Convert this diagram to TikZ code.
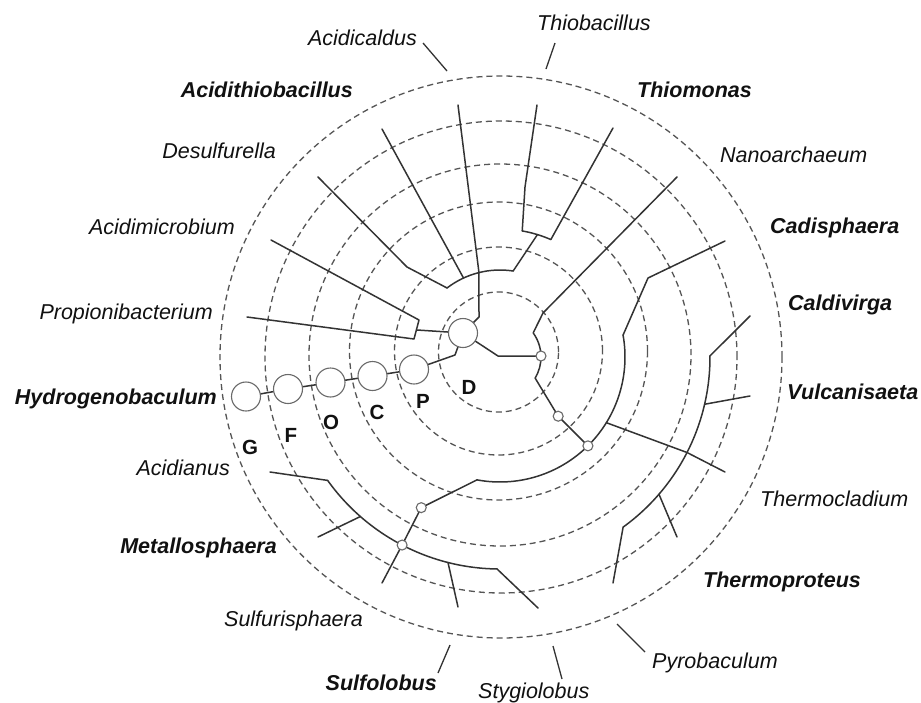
\documentclass[tikz,border=0pt]{standalone}
\usepackage{fontspec}
\setmainfont{Liberation Sans}
\definecolor{ringc}{HTML}{555555}
\definecolor{treec}{HTML}{333333}
\definecolor{nodec}{HTML}{6A6A6A}
\definecolor{textc}{HTML}{111111}
\begin{document}
\begin{tikzpicture}[x=1pt,y=-1pt,
  ring/.style={draw=ringc, line width=1.3pt, dash pattern=on 6pt off 4pt},
  branch/.style={draw=treec, line width=1.5pt, line join=round, line cap=round},
  leader/.style={draw=treec, line width=1.3pt},
  bigc/.style={circle, draw=nodec, fill=white, line width=1.1pt, minimum size=29pt, inner sep=0pt},
  smallc/.style={circle, draw=nodec, fill=white, line width=1.1pt, minimum size=10pt, inner sep=0pt},
  taxon/.style={inner sep=0pt, text=textc, font=\fontsize{21.5}{26}\selectfont\itshape},
  btaxon/.style={inner sep=0pt, text=textc, font=\fontsize{21.5}{26}\selectfont\bfseries\itshape},
  rank/.style={inner sep=0pt, text=textc, font=\fontsize{20.5}{24}\selectfont\bfseries}]
\useasboundingbox (0,0) rectangle (921,702);
\fill[white] (0,0) rectangle (921,702);

% dashed rings
\coordinate (k1) at (498.5,352);
\coordinate (k2) at (498.5,351);
\coordinate (k3) at (498.5,351);
\coordinate (k4) at (500,355);
\coordinate (k5) at (501,357);
\coordinate (k6) at (501,357);
\draw[ring] (k1) circle[radius=60pt];
\draw[ring] (k2) circle[radius=104pt];
\draw[ring] (k3) circle[radius=149pt];
\draw[ring] (k4) circle[radius=191pt];
\draw[ring] (k5) circle[radius=236pt];
\draw[ring] (k6) circle[radius=281pt];

% tree coordinates
\coordinate (T) at (500,357);
\coordinate (hub) at (498,356);
\coordinate (pD) at (463,333);
\coordinate (pP) at (414,369.5);
\coordinate (pC) at (372.5,376);
\coordinate (pO) at (330.5,382.5);
\coordinate (pF) at (288,389);
\coordinate (pG) at (246,396.5);
\coordinate (pa) at ([shift={(T)}]-1.4:41);
\coordinate (pb) at ([shift={(T)}]45.5:83);
\coordinate (pc) at ([shift={(T)}]45.3:125);
\coordinate (pd) at ([shift={(T)}]117.6:170);
\coordinate (pe) at ([shift={(T)}]117.5:212);

% tips
\coordinate (tAcm) at (271,240);
\coordinate (tPro) at (247,317);
\coordinate (tAcd) at (458,105);
\coordinate (tAth) at (382,129);
\coordinate (tDes) at (318,177);
\coordinate (tThb) at (537,105);
\coordinate (tThm) at (613,128);
\coordinate (tNan) at (677,177);
\coordinate (tCad) at (725,241);
\coordinate (tCdv) at (750,316);
\coordinate (tVul) at (750,396);
\coordinate (tTcl) at (725,472);
\coordinate (tTpr) at (677,537);
\coordinate (tPyr) at (613,583);
\coordinate (tAcn) at (270,472);
\coordinate (tMet) at (318,537);
\coordinate (tSfp) at (382,583);
\coordinate (tSfl) at (458,607);
\coordinate (tSty) at (538,608);

% chain of ranks
\coordinate (pdk) at (455,355);
\draw[branch] (pG) -- (pF) -- (pO) -- (pC) -- (pP) -- (pdk) -- (pD);

% left clade
\coordinate (jL1) at (419,320);
\coordinate (jL2) at (414,339);
\coordinate (jL) at (417,330);
\draw[branch] (tAcm) -- (jL1) -- (jL2) -- (tPro);
\draw[branch] (jL) -- (pD);

% upper clade
\coordinate (dUp) at (479,317);
\coordinate (n1) at ([shift={(T)}]-104:87);
\coordinate (aL) at ([shift={(T)}]-127.5:87);
\coordinate (aR) at ([shift={(T)}]-81.3:87);
\coordinate (aAth) at ([shift={(T)}]-114.8:87);
\coordinate (dsK) at (407,267);
\coordinate (bMid) at ([shift={(T)}]-73:128);
\coordinate (bL) at ([shift={(T)}]-80:128);
\coordinate (bR) at ([shift={(T)}]-66.6:128);
\coordinate (thK) at (525,187);
\draw[branch] (pD) -- (dUp) -- (n1);
\draw[branch] (aL) arc[start angle=-127.5, end angle=-81.3, radius=87];
\draw[branch] (n1) -- (tAcd);
\draw[branch] (aAth) -- (tAth);
\draw[branch] (aL) -- (dsK) -- (tDes);
\draw[branch] (aR) -- (bMid);
\draw[branch] (bL) arc[start angle=-80, end angle=-66.6, radius=128];
\draw[branch] (bL) -- (thK) -- (tThb);
\draw[branch] (bR) -- (tThm);

% right part
\coordinate (nK) at (543,313);
\draw[branch] (pD) -- (hub) -- (pa);
\draw[branch] (pa) arc[start angle=-1.4, end angle=-36, radius=41] -- (nK) -- (tNan);
\draw[branch] (pa) arc[start angle=-1.4, end angle=31, radius=41] -- (pb) -- (pc);

% c arc
\coordinate (cL) at ([shift={(T)}]100.6:125);
\coordinate (cTop) at ([shift={(T)}]-10.1:125);
\coordinate (r1) at ([shift={(T)}]31.7:125);
\coordinate (cdK) at (648,278);
\draw[branch] (cL) arc[start angle=100.6, end angle=-10.1, radius=125];
\draw[branch] (cTop) -- (cdK) -- (tCad);
\draw[branch] (cL) -- (pd) -- (pe);

% Thermoproteus clade
\coordinate (r2) at ([shift={(T)}]27.05:210);
\coordinate (qTop) at ([shift={(T)}]-0.3:210);
\coordinate (qBot) at ([shift={(T)}]54.1:210);
\coordinate (qV) at ([shift={(T)}]13:210);
\coordinate (qT) at ([shift={(T)}]40.8:210);
\draw[branch] (qTop) arc[start angle=-0.3, end angle=54.1, radius=210];
\draw[branch] (r1) -- (r2) -- (tTcl);
\draw[branch] (qTop) -- (tCdv);
\draw[branch] (qV) -- (tVul);
\draw[branch] (qT) -- (tTpr);
\draw[branch] (qBot) -- (tPyr);

% Sulfolobales clade
\coordinate (eL) at ([shift={(T)}]144.4:212);
\coordinate (eR) at ([shift={(T)}]90.8:212);
\coordinate (eM) at ([shift={(T)}]131.2:212);
\coordinate (eS) at ([shift={(T)}]104.2:212);
\draw[branch] (eL) arc[start angle=144.4, end angle=90.8, radius=212];
\draw[branch] (eL) -- (tAcn);
\draw[branch] (eM) -- (tMet);
\draw[branch] (pe) -- (tSfp);
\draw[branch] (eS) -- (tSfl);
\draw[branch] (eR) -- (tSty);

% circles
\node[bigc] (D) at (pD) {};
\node[bigc] (P) at (pP) {};
\node[bigc] (C) at (pC) {};
\node[bigc] (O) at (pO) {};
\node[bigc] (F) at (pF) {};
\node[bigc] (G) at (pG) {};
\node[smallc] (a) at (pa) {};
\node[smallc] (b) at (pb) {};
\node[smallc] (c) at (pc) {};
\node[smallc] (d) at (pd) {};
\node[smallc] (e) at (pe) {};

% rank letters
\node[rank] (lD) at (469,387) {D};
\node[rank] (lP) at (423,401) {P};
\node[rank] (lC) at (377,412) {C};
\node[rank] (lO) at (331,422) {O};
\node[rank] (lF) at (291,435) {F};
\node[rank] (lG) at (250,447) {G};

% taxon labels, left side
\node[taxon, anchor=base east] (Lacd) at (417,45) {Acidicaldus};
\node[btaxon, anchor=base east] (Lath) at (353,97) {Acidithiobacillus};
\node[taxon, anchor=base east] (Ldes) at (276,158) {Desulfurella};
\node[taxon, anchor=base east] (Lacm) at (235,234) {Acidimicrobium};
\node[taxon, anchor=base east] (Lpro) at (213,319) {Propionibacterium};
\node[btaxon, anchor=base east] (Lhyd) at (217,404) {Hydrogenobaculum};
\node[taxon, anchor=base east] (Lacn) at (230,475) {Acidianus};
\node[btaxon, anchor=base east] (Lmet) at (277,553) {Metallosphaera};
\node[taxon, anchor=base east] (Lsfp) at (363,626) {Sulfurisphaera};
\node[btaxon, anchor=base east] (Lsfl) at (437,690) {Sulfolobus};
% right side
\node[taxon, anchor=base west] (Lthb) at (537,30) {Thiobacillus};
\node[btaxon, anchor=base west] (Lthm) at (637,97) {Thiomonas};
\node[taxon, anchor=base west] (Lnan) at (720,162) {Nanoarchaeum};
\node[btaxon, anchor=base west] (Lcad) at (770,233) {Cadisphaera};
\node[btaxon, anchor=base west] (Lcdv) at (788,310) {Caldivirga};
\node[btaxon, anchor=base west] (Lvul) at (787,399) {Vulcanisaeta};
\node[taxon, anchor=base west] (Ltcl) at (760,506) {Thermocladium};
\node[btaxon, anchor=base west] (Ltpr) at (703,587) {Thermoproteus};
\node[taxon, anchor=base west] (Lpyr) at (652,668) {Pyrobaculum};
\node[taxon, anchor=base west] (Lsty) at (478,698) {Stygiolobus};

% leader lines
\coordinate (acd1) at (423,43);  \coordinate (acd2) at (447,71);
\coordinate (thb1) at (555,43);  \coordinate (thb2) at (546,69);
\coordinate (sfl1) at (450,645); \coordinate (sfl2) at (438,673);
\coordinate (sty1) at (553,646); \coordinate (sty2) at (562,679);
\coordinate (pyr1) at (617,624); \coordinate (pyr2) at (645,652);
\draw[leader] (acd1) -- (acd2);
\draw[leader] (thb1) -- (thb2);
\draw[leader] (sfl1) -- (sfl2);
\draw[leader] (sty1) -- (sty2);
\draw[leader] (pyr1) -- (pyr2);
\end{tikzpicture}
\end{document}
